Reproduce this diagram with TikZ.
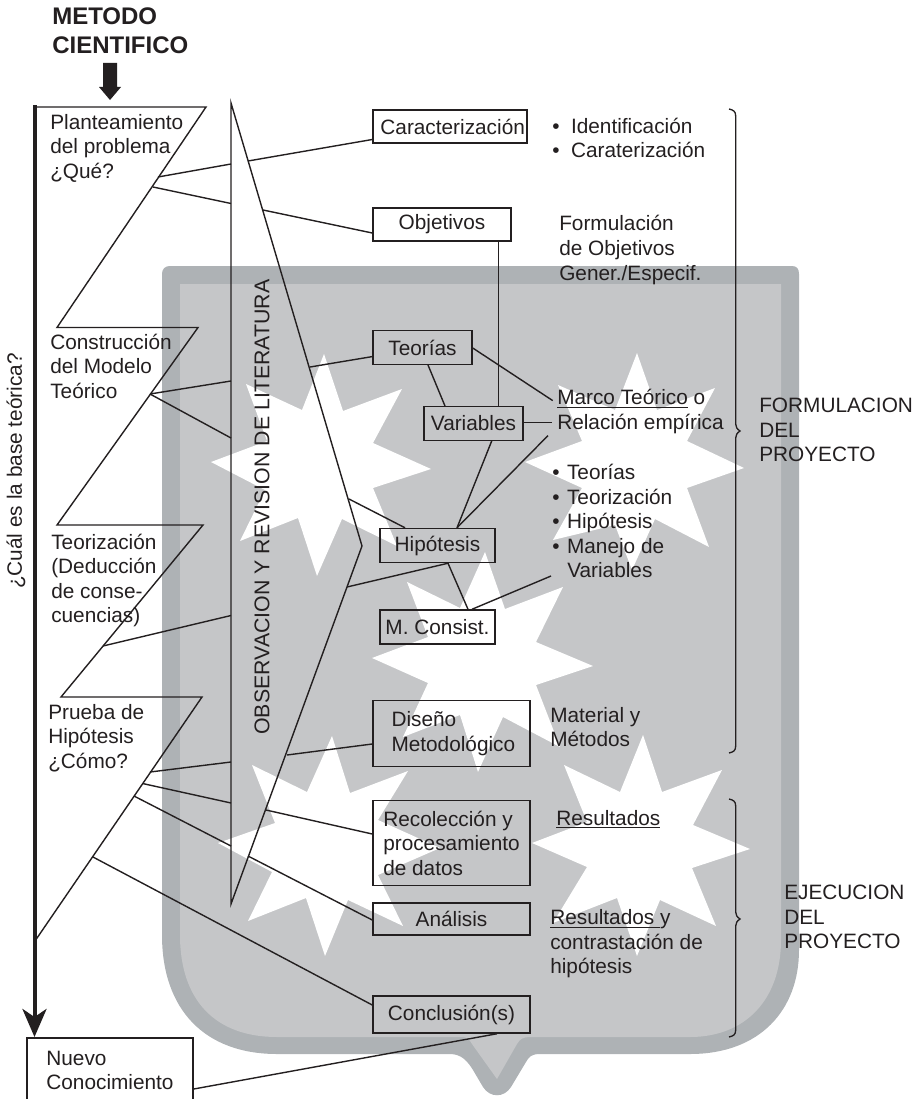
\documentclass[tikz,border=0pt]{standalone}
\usepackage{fontspec}
\setmainfont{Liberation Sans}
\usetikzlibrary{arrows.meta}
\definecolor{ink}{HTML}{231F20}
\definecolor{shieldout}{HTML}{AEB2B5}
\definecolor{shieldin}{HTML}{C5C6C8}
\tikzset{
  line/.style={draw=ink,line width=1.05pt},
  pbox/.style 2 args={draw=ink,line width=1.1pt,inner sep=0pt,text=ink,align=left,
     minimum width=#1*0.75pt,minimum height=#2*0.75pt},
  txt/.style={anchor=west,inner sep=0pt,text=ink,align=left},
  star/.style={fill=white,draw=none},
  brace/.style={draw=ink,line width=1pt},
}
\newcommand{\bul}[1]{\textbullet\hspace{0.22em}\hspace{#1}}
\begin{document}
\begin{tikzpicture}[x=0.75pt,y=-0.75pt,font=\fontsize{15.6}{18.4}\selectfont]
\useasboundingbox (0,0) rectangle (923,1099);
% shield
\fill[shieldout] (162,274) -- (162,935) .. controls (162,1010) and (205,1054) .. (277,1054)
  -- (450,1054) .. controls (462,1054) and (468,1062) .. (473,1070) -- (483,1087)
  .. controls (490,1098) and (504,1098) .. (511,1087) -- (526,1062) .. controls (529,1057) and (531,1054) .. (540,1054)
  -- (690,1054) .. controls (760,1054) and (799,1010) .. (799,950)
  -- (799,274) .. controls (799,269) and (797,266) .. (792,266) -- (170,266) .. controls (165,266) and (162,269) .. (162,274) -- cycle;
\fill[shieldin] (180,284) -- (180,935) .. controls (180,1000) and (215,1037) .. (277,1037)
  -- (462,1037) .. controls (467,1037) and (469,1039) .. (472,1044) -- (497,1079) -- (517,1044)
  .. controls (520,1039) and (523,1037) .. (530,1037) -- (690,1037) .. controls (745,1037) and (781,1000) .. (781,940) -- (781,284) -- cycle;
% stars
\fill[star] (324,354) -- (343,411) -- (402,389) -- (373,443) -- (431,469) -- (373,488) -- (397,546) -- (342,519) -- (317,576) -- (298,518) -- (240,541) -- (265,490) -- (211,462) -- (267,441) -- (246,384) -- (302,410) -- cycle;
\fill[star] (637,353) -- (657,410) -- (715,388) -- (687,441) -- (744,468) -- (687,488) -- (709,547) -- (655,519) -- (632,570) -- (615,525) -- (553,540) -- (582,488) -- (525,462) -- (582,441) -- (558,385) -- (615,410) -- cycle;
\fill[star] (485,552) -- (505,609) -- (563,587) -- (536,642) -- (593,666) -- (536,685) -- (560,747) -- (503,717) -- (478,772) -- (460,715) -- (403,737) -- (428,683) -- (372,658) -- (428,637) -- (407,582) -- (460,608) -- cycle;
\fill[star] (643,735) -- (662,792) -- (722,770) -- (693,825) -- (750,849) -- (692,868) -- (716,926) -- (660,900) -- (637,956) -- (617,898) -- (553,923) -- (587,867) -- (532,843) -- (587,822) -- (564,765) -- (620,792) -- cycle;
\fill[star] (332,736) -- (350,793) -- (408,771) -- (378,820) -- (440,848) -- (378,875) -- (403,926) -- (348,900) -- (325,956) -- (306,898) -- (248,921) -- (272,872) -- (218,843) -- (275,823) -- (252,765) -- (307,792) -- cycle;
% title
\node[txt,font=\fontsize{18}{21.8}\selectfont\bfseries] (title) at (52,31) {METODO\\CIENTIFICO};
\fill[ink] (103,63) -- (117,63) -- (117,87) -- (121,87) -- (110,100) -- (99,87) -- (103,87) -- cycle;
% Z-shaped staged outline
\draw[line,line join=miter] (33,107) -- (206,107) -- (57,327.5) -- (198,327.5) -- (57,525) -- (203,525) -- (61,697) -- (202,697) -- (36,939.5);
% big triangle
\draw[line,line join=miter] (231,103) -- (362,546) -- (231,904) -- cycle;
% side labels
\node[inner sep=0pt,text=ink,rotate=90,font=\fontsize{16}{18.4}\selectfont] (obs) at (262,507) {OBSERVACION Y REVISION DE LITERATURA};
\node[inner sep=0pt,text=ink,rotate=90] (base) at (16,471) {¿Cuál es la base teórica?};
% stage texts
\node[txt] (plan) at (50,148) {Planteamiento\\del problema\\¿Qué?};
\node[txt] (cons) at (50,366) {Construcción\\del Modelo\\Teórico};
\node[txt] (teor) at (51,580.5) {Teorización\\(Deducción\\de conse-\\cuencias)};
\node[txt] (prue) at (48,738) {Prueba de\\Hipótesis\\¿Cómo?};
% boxes
\node[pbox={154}{33}] (car) at (450,126.5) {\hspace*{4pt}Caracterización};
\node[pbox={138}{33}] (obj) at (442,224.5) {Objetivos};
\node[pbox={99}{33.5}] (teo) at (422.5,347.5) {Teorías};
\node[pbox={99}{33.5}] (var) at (473.5,423.5) {Variables};
\node[pbox={115}{34}] (hip) at (437.5,545.5) {Hipótesis};
\node[pbox={115}{34}] (mco) at (437.5,627) {M. Consist.};
\node[pbox={157}{66}] (dis) at (451.5,733.5) {\hspace*{2.8pt}Diseño\\\hspace*{2.8pt}Metodológico};
\node[pbox={157}{84.5}] (rec) at (451.5,843) {Recolección y\\procesamiento\\de datos};
\node[pbox={157}{32}] (ana) at (451.5,919) {Análisis};
\node[pbox={157}{37}] (con) at (451.5,1014.5) {Conclusión(s)};
\node[pbox={166}{65}] (nue) at (110,1070.5) {Nuevo\\Conocimiento};
% right-hand texts
\node[txt] (t1) at (552,138) {\bul{5.2pt}Identificación\\\bul{5.2pt}Caraterización};
\node[txt] (t2) at (559,250) {Formulación\\de Objetivos\\Gener./Especif.};
\node[txt] (t3) at (557,411.5) {\underline{Marco Teórico} o\\Relación empírica};
\node[txt] (t4) at (552,521) {\bul{2.2pt}Teorías\\\bul{2.2pt}Teorización\\\bul{2.2pt}Hipótesis\\\bul{2.2pt}Manejo de\\\hspace*{11.25pt}Variables};
\node[txt] (t5) at (550,727) {Material y\\Métodos};
\node[txt] (t6) at (556,819) {\underline{Resultados}};
\node[txt] (t7) at (550,944) {\underline{Resultados }y\\contrastación de\\hipótesis};
\node[txt] (t8) at (759,430) {FORMULACION\\DEL\\PROYECTO};
\node[txt] (t9) at (784,917) {EJECUCION\\DEL\\PROYECTO};
% free ends
\coordinate (a1) at (158,177); \coordinate (a2) at (231,164); \coordinate (a3) at (248,161); \coordinate (a4) at (373,139.5);
\coordinate (b1) at (153,187); \coordinate (b2) at (231,203.5); \coordinate (b3) at (263,210); \coordinate (b4) at (373,233);
\coordinate (c1) at (498.5,240); \coordinate (c3) at (310,367); \coordinate (c4) at (373,356.6);
\coordinate (d1) at (150,394); \coordinate (d2) at (231,381); \coordinate (d3) at (231,438);
\coordinate (e1) at (428,364); \coordinate (e2) at (445,406);
\coordinate (f1) at (472,348); \coordinate (f2) at (552.7,400.6);
\coordinate (g1) at (523,422.7); \coordinate (g2) at (552,422.7);
\coordinate (h1) at (491.7,440); \coordinate (h2) at (457,529); \coordinate (h3) at (548,435.6);
\coordinate (i1) at (349,499); \coordinate (i2) at (405,529);
\coordinate (j1) at (347,587); \coordinate (j2) at (448,563);
\coordinate (k1) at (468,610); \coordinate (k2) at (472,610); \coordinate (k3) at (551,576);
\coordinate (l1) at (103,646); \coordinate (l2) at (231,615.5);
\coordinate (m1) at (150,772); \coordinate (m2) at (231,762); \coordinate (m3) at (287,755); \coordinate (m4) at (373,744);
\coordinate (n1) at (143,783.6); \coordinate (n2) at (231,803); \coordinate (n3) at (266,810); \coordinate (n4) at (373,834);
\coordinate (o1) at (134,796); \coordinate (o2) at (231,846); \coordinate (o3) at (248,856); \coordinate (o4) at (373,920);
\coordinate (q1) at (93,857); \coordinate (q2) at (373,1005);
\coordinate (r1) at (193,1089); \coordinate (r2) at (497,1033);
\coordinate (s1) at (34.5,105); \coordinate (s2) at (34.5,1037);
% connectors
\draw[line] (a1) -- (a2); \draw[line] (a3) -- (car.west |- a4);
\draw[line] (b1) -- (b2); \draw[line] (b3) -- (obj.west |- b4);
\draw[line] (obj.south -| c1) -- (var.north -| c1);
\draw[line] (c3) -- (teo.west |- c4);
\draw[line] (d1) -- (d2); \draw[line] (d1) -- (d3);
\draw[line] (teo.south -| e1) -- (var.north -| e2);
\draw[line] (teo.east |- f1) -- (f2);
\draw[line] (var.east |- g1) -- (g2);
\draw[line] (var.south -| h1) -- (hip.north -| h2);
\draw[line] (h3) -- (hip.north -| h2);
\draw[line] (i1) -- (hip.north -| i2);
\draw[line] (j1) -- (hip.south -| j2);
\draw[line] (hip.south -| j2) -- (mco.north -| k1);
\draw[line] (mco.north -| k2) -- (k3);
\draw[line] (l1) -- (l2);
\draw[line] (m1) -- (m2); \draw[line] (m3) -- (dis.west |- m4);
\draw[line] (n1) -- (n2); \draw[line] (n3) -- (rec.west |- n4);
\draw[line] (o1) -- (o2); \draw[line] (o3) -- (ana.west |- o4);
\draw[line] (q1) -- (con.west |- q2);
\draw[line] (nue.east |- r1) -- (con.south -| r2);
% main arrow
\draw[draw=ink,line width=3pt,-{Stealth[length=21pt,width=18pt,inset=6pt]}] (s1) -- (s2);
% braces
\draw[brace] (729,109) .. controls (733,110) and (735.7,111) .. (735.7,116) -- (735.7,424) .. controls (735.7,427) and (737,429) .. (740,431) .. controls (737,433) and (735.7,435) .. (735.7,438) -- (735.7,746) .. controls (735.7,751) and (733,752) .. (729,753);
\draw[brace] (729,799) .. controls (733,800) and (735.7,801) .. (735.7,806) -- (735.7,912) .. controls (735.7,915) and (737,917) .. (740,919) .. controls (737,921) and (735.7,923) .. (735.7,926) -- (735.7,1030) .. controls (735.7,1035) and (733,1036) .. (729,1037);
\end{tikzpicture}
\end{document}
